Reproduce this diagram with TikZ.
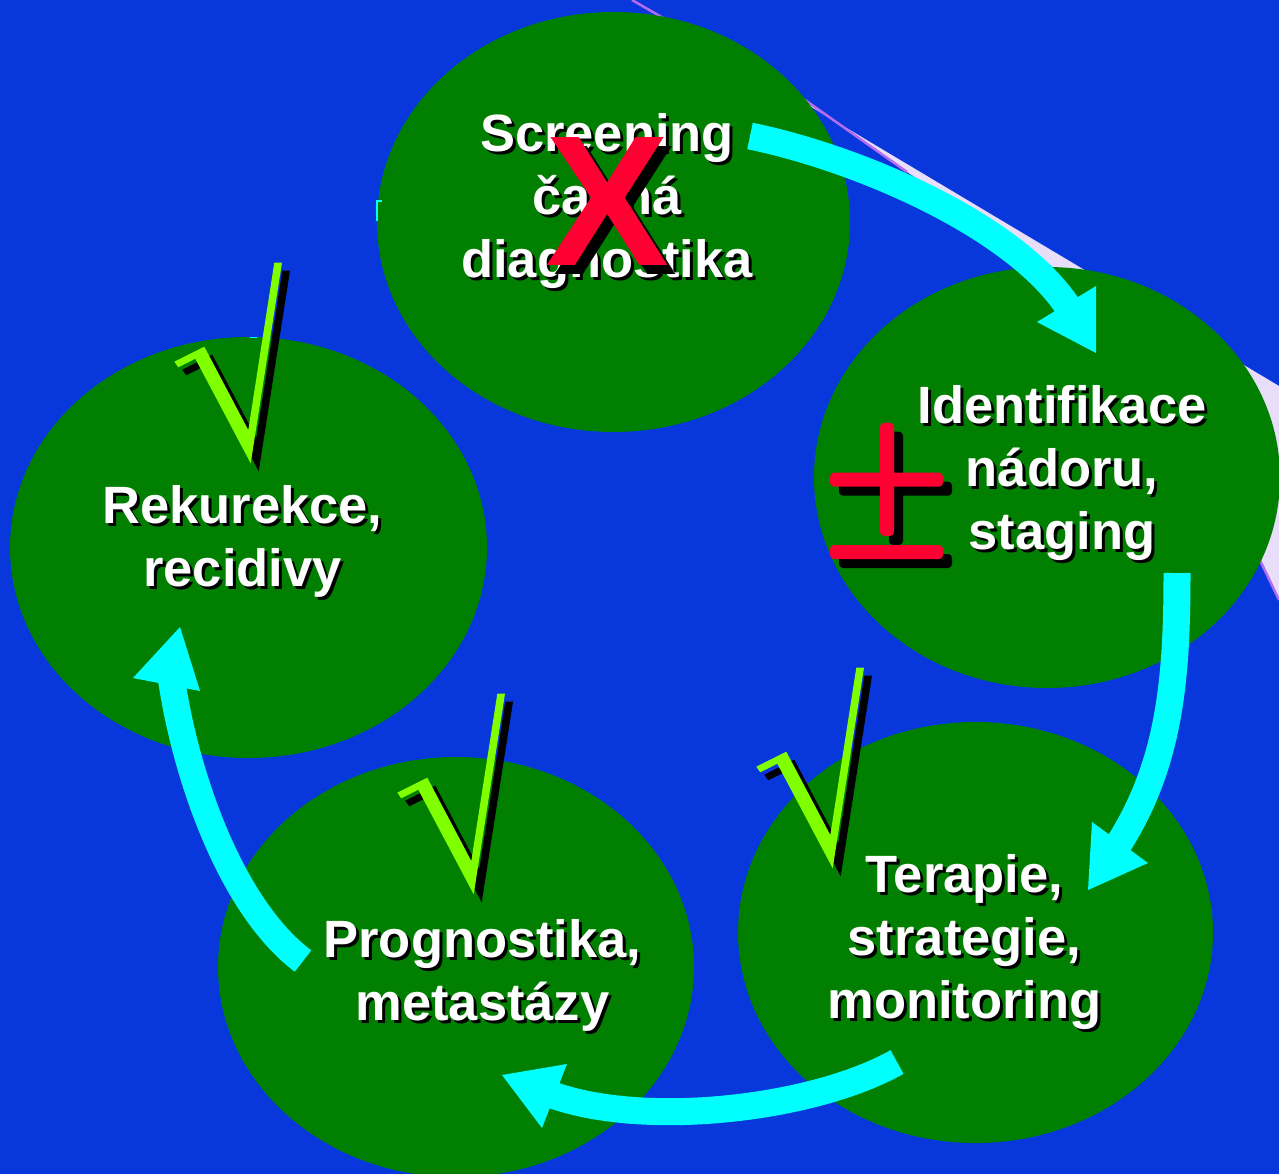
\documentclass[tikz,border=0pt]{standalone}
\usepackage{fontspec}
\setmainfont{Liberation Sans}[Ligatures=CommonOff]
\usetikzlibrary{shapes.geometric}
\definecolor{bgblue}{HTML}{0838DC}
\definecolor{leaf}{HTML}{007F00}
\definecolor{aqua}{HTML}{00FFFF}
\definecolor{limeg}{HTML}{80FF00}
\definecolor{mred}{HTML}{FF0033}
\definecolor{haze}{HTML}{E8DEFA}
\definecolor{hazeedge}{HTML}{B46CF0}
\newcommand\lblfont{\fontsize{52.5}{63}\selectfont\bfseries}
\newcommand\xfont{\fontsize{186}{186}\selectfont\bfseries}
\tikzset{
  blob/.style={ellipse, fill=leaf, draw=none, inner sep=0pt, outer sep=0pt},
  lbl/.style={text=white, align=center, inner sep=0pt, outer sep=0pt, font=\lblfont},
  lblsh/.style={lbl, text=black},
  xmark/.style={inner sep=0pt, outer sep=0pt, font=\xfont, text=mred},
  flow/.style={draw=aqua, line width=27pt, line cap=butt},
  headfill/.style={fill=aqua},
  radical/.pic={
    \fill[black, shift={(8,8)}] (0,0) -- (30,-15) -- (74,68.3) -- (100,-99) -- (107.7,-99) -- (76.4,101.6) -- (21,-3) -- (4,5.6) -- cycle;
    \fill[limeg] (0,0) -- (30,-15) -- (74,68.3) -- (100,-99) -- (107.7,-99) -- (76.4,101.6) -- (21,-3) -- (4,5.6) -- cycle;
  }
}
\begin{document}
\begin{tikzpicture}[x=1pt,y=-1pt]
\useasboundingbox (0,0) rectangle (1279,1174);
\fill[bgblue] (0,0) rectangle (1279,1174);

% pale backdrop sliver
\fill[haze] (632,0) -- (1279,386) -- (1279,600) -- (1150,330) -- (907,172) -- (805,100) -- cycle;
\draw[hazeedge, line width=2.5pt] (632,0) -- (805,100) -- (907,172);
\draw[hazeedge, line width=2.5pt] (1279,600) -- (1150,330);

% ellipses
\node[blob, minimum width=473pt, minimum height=420pt] (screen) at (613.5,222) {};
\node[blob, minimum width=466pt, minimum height=421pt] (ident) at (1047,477.5) {};
\node[blob, minimum width=477pt, minimum height=421pt] (recur) at (248.5,547.5) {};
\node[blob, minimum width=476pt, minimum height=420pt] (progn) at (456,967) {};
\node[blob, minimum width=475pt, minimum height=421pt] (therap) at (975.5,932.5) {};

% tiny cyan marks
\draw[aqua, line width=2pt] (382,201) -- (377,201) -- (377,221);
\draw[aqua, line width=1.5pt] (250,337.5) -- (257,337.5);

% arrows
\coordinate (a1s) at (750,136);
\coordinate (a1e) at (1071.6,312.6);
\draw[flow] (a1s) .. controls (858,158) and (1020,227) .. (a1e);
\fill[headfill] (1096,286) -- (1096,353) -- (1037,322) -- cycle;

\coordinate (a2s) at (1177,573);
\coordinate (a2e) at (1114.5,850.3);
\draw[flow] (a2s) .. controls (1177,680) and (1170,767) .. (a2e);
\fill[headfill] (1092,822) -- (1088,890) -- (1148,863) -- cycle;

\coordinate (a3s) at (897,1062);
\coordinate (a3e) at (545.2,1092.3);
\draw[flow] (a3s) .. controls (812,1110) and (638,1129.4) .. (a3e);
\fill[headfill] (567,1064) -- (502,1075) -- (542,1128) -- cycle;

\coordinate (a4s) at (303,961);
\coordinate (a4e) at (171,676);
\draw[flow] (a4s) .. controls (231,907) and (185,775) .. (a4e);
\fill[headfill] (133,678) -- (180,627) -- (200,691) -- cycle;

% labels with shadows
\node[lblsh] (screen-sh) at (610,204.4) {Screening\\časná\\diagnostika};
\node[lbl] (screen-txt) at (607,201.4) {Screening\\časná\\diagnostika};
\node[lblsh] (ident-sh) at (1065,476) {Identifikace\\nádoru,\\staging};
\node[lbl] (ident-txt) at (1062,473) {Identifikace\\nádoru,\\staging};
\node[lblsh] (recur-sh) at (245.5,544) {Rekurekce,\\recidivy};
\node[lbl] (recur-txt) at (242.5,541) {Rekurekce,\\recidivy};
\node[lblsh] (progn-sh) at (485.5,978) {Prognostika,\\metastázy};
\node[lbl] (progn-txt) at (482.5,975) {Prognostika,\\metastázy};
\node[lblsh] (therap-sh) at (967.5,945.5) {Terapie,\\strategie,\\monitoring};
\node[lbl] (therap-txt) at (964.5,942.5) {Terapie,\\strategie,\\monitoring};

% red X
\node[xmark, text=black] (xsh) at (615.5,210.5) {X};
\node[xmark] (xmk) at (607.5,201.5) {X};

% plus-minus
\begin{scope}[shift={(9,9)}]
  \fill[black, rounded corners=4pt] (830,472.7) rectangle (943,486.7);
  \fill[black, rounded corners=4pt] (880,422.7) rectangle (894,536);
  \fill[black, rounded corners=4pt] (830,545) rectangle (943,559);
\end{scope}
\fill[mred, rounded corners=4pt] (830,472.7) rectangle (943,486.7);
\fill[mred, rounded corners=4pt] (880,422.7) rectangle (894,536);
\fill[mred, rounded corners=4pt] (830,545) rectangle (943,559);

% check marks
\pic (chk1) at (174.3,361.7) {radical};
\pic (chk2) at (397.3,792.7) {radical};
\pic (chk3) at (756.3,766.7) {radical};
\end{tikzpicture}
\end{document}
